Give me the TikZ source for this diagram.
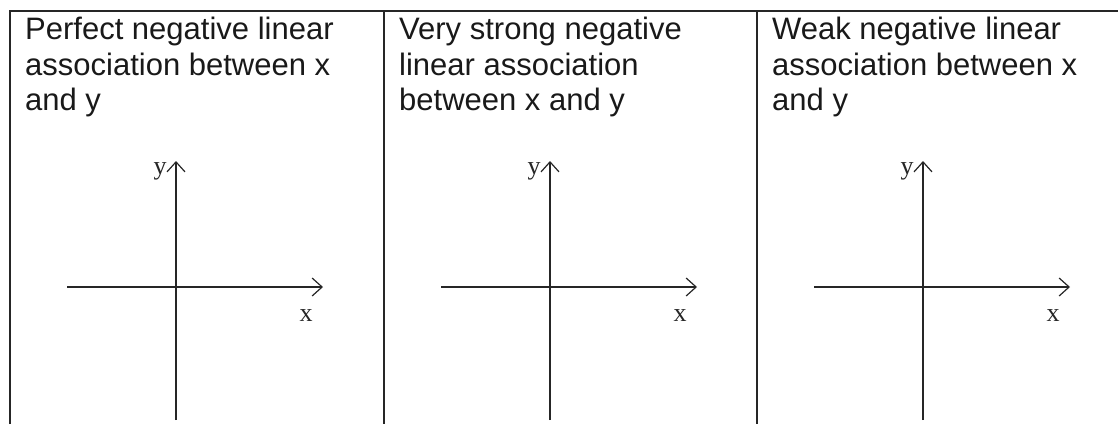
\documentclass[tikz,border=0pt]{standalone}
\usepackage{fontspec}
\setmainfont{Liberation Sans}
\newfontfamily\axisfont{Liberation Serif}
\usetikzlibrary{arrows.meta}
\begin{document}
\begin{tikzpicture}[x=1pt,y=-1pt,
  frame/.style={line width=1.8pt,draw=black!85},
  axisline/.style={line width=1.3pt,draw=black!85,-{Straight Barb[length=10pt,width=18pt,line width=1.2pt]}},
  caption/.style={anchor=base west,inner sep=0pt,font=\fontsize{31}{35}\selectfont,text=black!90},
  axlabel/.style={inner sep=0pt,font=\axisfont\fontsize{26}{26}\selectfont,text=black!85}]
\useasboundingbox (0,0) rectangle (1118,424);
% frame
\coordinate (tl) at (10,11);
\coordinate (tr) at (1118,11);
\coordinate (bl) at (10,424);
\coordinate (d1t) at (384,11);
\coordinate (d1b) at (384,424);
\coordinate (d2t) at (757,11);
\coordinate (d2b) at (757,424);
\draw[frame] (bl) -- (tl) -- (tr);
\draw[frame] (d1t) -- (d1b);
\draw[frame] (d2t) -- (d2b);
% captions
\node[caption] (p1l1) at (25,39) {Perfect negative linear};
\node[caption] (p1l2) at (25,75) {association between x};
\node[caption] (p1l3) at (25,110) {and y};
\node[caption] (p2l1) at (399,39) {Very strong negative};
\node[caption] (p2l2) at (399,75) {linear association};
\node[caption] (p2l3) at (399,110) {between x and y};
\node[caption] (p3l1) at (772,39) {Weak negative linear};
\node[caption] (p3l2) at (772,75) {association between x};
\node[caption] (p3l3) at (772,110) {and y};
% axes
\foreach \i/\ox in {1/0,2/374,3/747}{
  \coordinate (xs\i) at (67+\ox,287);
  \coordinate (xe\i) at (323+\ox,287);
  \coordinate (ys\i) at (176+\ox,420);
  \coordinate (ye\i) at (176+\ox,161);
  \draw[axisline] (xs\i) -- (xe\i);
  \draw[axisline] (ys\i) -- (ye\i);
  \node[axlabel] (xl\i) at (306+\ox,316) {x};
  \node[axlabel] (yl\i) at (160+\ox,171) {y};
}
\end{tikzpicture}
\end{document}
